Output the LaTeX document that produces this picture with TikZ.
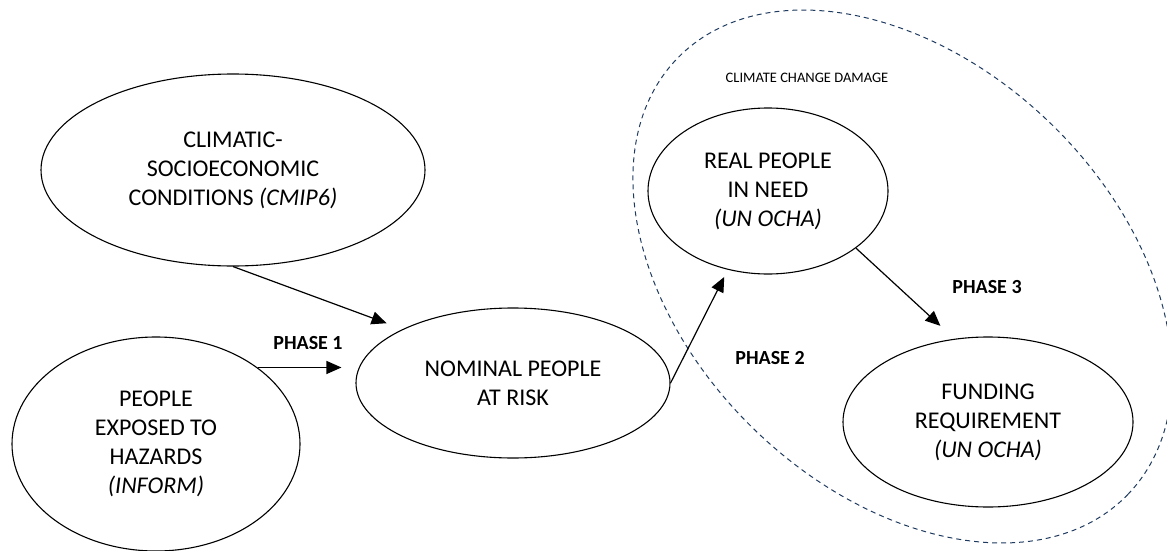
\documentclass[tikz,border=0pt]{standalone}
\usepackage{fontspec}
\setmainfont{Carlito}
\usetikzlibrary{shapes.geometric,arrows.meta}
\definecolor{dmgblue}{HTML}{1F3A5F}
\begin{document}
\begin{tikzpicture}[x=1pt,y=-1pt,
  bubble/.style={draw=black,line width=1.1pt,ellipse,inner sep=0pt,align=center,
    font=\fontsize{24}{29}\selectfont},
  conn/.style={line width=1.2pt,-{Triangle[length=15pt,width=13pt]}},
  phase/.style={font=\fontsize{20}{24}\selectfont\bfseries},
  zone/.style={draw=dmgblue,line width=1pt,dash pattern=on 5pt off 4pt,ellipse,inner sep=0pt},
]
\useasboundingbox (0,0) rectangle (1167,551);
\node[zone,minimum width=627pt,minimum height=426pt,rotate=-44.1] (dmg) at (902.5,276.5) {};
\node[font=\fontsize{14.5}{17}\selectfont] (dmglabel) at (807,78) {CLIMATE CHANGE DAMAGE};

\node[bubble,minimum width=384pt,minimum height=192pt] (cmip) at (233,170)
  {CLIMATIC-\\SOCIOECONOMIC\\CONDITIONS \textit{(CMIP6)}};
\node[bubble,minimum width=288pt,minimum height=214pt] (people) at (156,444)
  {PEOPLE\\EXPOSED TO\\HAZARDS\\\textit{(INFORM)}};
\node[bubble,minimum width=314pt,minimum height=150pt] (nom) at (513,383)
  {NOMINAL PEOPLE\\AT RISK};
\node[bubble,minimum width=240pt,minimum height=166pt] (real) at (768,191)
  {REAL PEOPLE\\IN NEED\\\textit{(UN OCHA)}};
\node[bubble,minimum width=290pt,minimum height=170pt] (fund) at (988,422)
  {FUNDING\\REQUIREMENT\\\textit{(UN OCHA)}};

\node[phase] (p1) at (308,343) {PHASE 1};
\node[phase] (p2) at (770,358) {PHASE 2};
\node[phase] (p3) at (987,287) {PHASE 3};

\draw[conn,shorten >=17pt] (cmip.south) -- (nom.154);
\draw[conn,shorten >=14pt] (people.37) -- (people.37 -| nom.west);
\draw[conn,shorten >=8pt] (nom.east) -- (real.243);
\draw[conn,shorten >=19pt] (real.-33) -- (fund.112);
\end{tikzpicture}
\end{document}
